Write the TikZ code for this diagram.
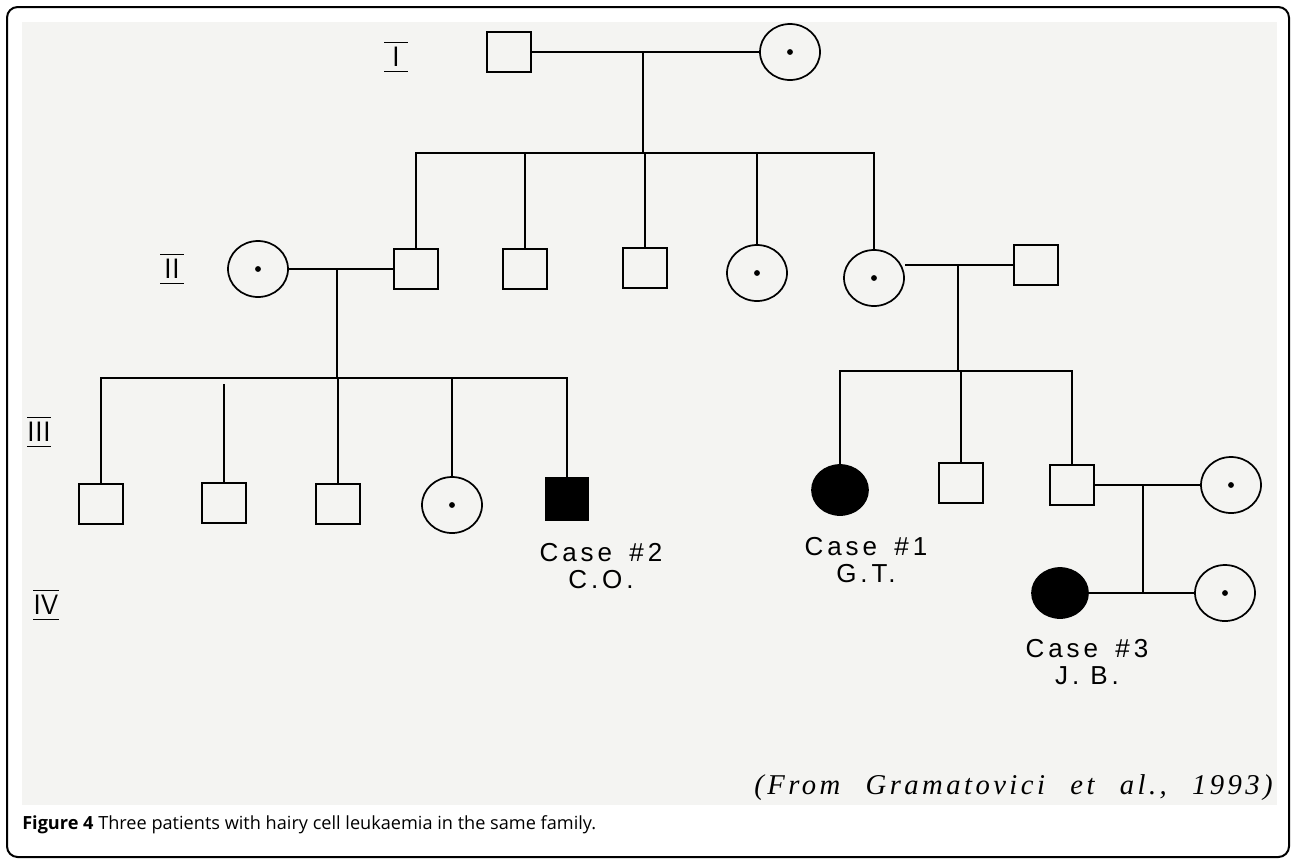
\documentclass[tikz,border=0pt]{standalone}
\usepackage{fontspec}
\usetikzlibrary{shapes.geometric,calc}
\newfontfamily\casefont[LetterSpace=15]{Liberation Sans}
\newfontfamily\fromfont[LetterSpace=12]{Liberation Serif}
\newfontfamily\capfont{Open Sans}
\definecolor{scangray}{RGB}{244,244,242}

\tikzset{
  pline/.style={line width=1.3pt},
  male/.style={draw, rectangle, line width=1.3pt, minimum width=33pt, minimum height=30pt, inner sep=0pt},
  female/.style={draw, ellipse, line width=1.3pt, minimum width=45pt, minimum height=42pt, inner sep=0pt,
    path picture={\fill (path picture bounding box.center) circle (2.2pt);}},
  affmale/.style={male, fill=black, minimum width=31.5pt, minimum height=31pt},
  afffemale/.style={draw, ellipse, fill=black, line width=1.3pt, minimum width=42pt, minimum height=37.5pt, inner sep=0pt},
  genlab/.style={font=\sffamily\fontsize{21}{21}\selectfont, minimum width=17pt, minimum height=21pt, inner sep=0pt},
  caselab/.style={font=\casefont\fontsize{19.5}{20.5}\selectfont, align=center, inner sep=0pt},
}

\begin{document}
\begin{tikzpicture}[x=0.75pt,y=-0.75pt]
    \useasboundingbox (0,0) rectangle (1292,858);
    % frame and scanned area
    \draw[line width=1.5pt, rounded corners=8pt] (7,7) rectangle (1289,857);
    \fill[scangray] (22,22) rectangle (1277,805);

    % generation labels
    \node[genlab] (gi) at (396,57) {I};
    \node[genlab] (gii) at (172,269) {II};
    \node[genlab] (giii) at (39,432) {III};
    \node[genlab] (giv) at (46,605) {IV};
    \foreach \g in {gi,gii,giii,giv}
        \draw[line width=1pt] (\g.north west) -- (\g.north east) (\g.south west) -- (\g.south east);

    % generation I
    \node[male] (i1) at (509,52) {};
    \node[female] (i2) at (790,52) {};
    \draw[pline] (i1) -- (i2);
    \coordinate (m1) at (643,52);
    \coordinate (s1) at (643,153);
    \draw[pline] (m1) -- (s1);

    % generation II
    \node[female] (ii1) at (258,269) {};
    \node[male] (ii2) at (416,269) {};
    \node[male] (ii3) at (525,269) {};
    \node[male] (ii4) at (645,268) {};
    \node[female] (ii5) at (757,273) {};
    \node[female] (ii6) at (874,278) {};
    \node[male] (ii7) at (1036,265) {};
    \draw[pline] (ii2.north) -- (ii2.north |- s1) -- (ii6.north |- s1) -- (ii6.north);
    \foreach \c in {ii3,ii4,ii5}
        \draw[pline] (\c.north) -- (\c.north |- s1);
    \draw[pline] (ii1) -- (ii2);
    \coordinate (m2) at (337,269);
    \coordinate (s2) at (337,378);
    \draw[pline] (m2) -- (s2);

    % generation III, left
    \node[male] (iii1) at (101,504) {};
    \node[male] (iii2) at (224,503) {};
    \node[male] (iii3) at (338,504) {};
    \node[female] (iii4) at (452,505) {};
    \node[affmale] (iii5) at (567,499) {};
    \draw[pline] (iii1.north) -- (iii1.north |- s2) -- (iii5.north |- s2) -- (iii5.north);
    \foreach \c in {iii3,iii4}
        \draw[pline] (\c.north) -- (\c.north |- s2);
    \draw[pline] (iii2.north) -- ($(iii2.north |- s2)+(0,6)$);

    % generation III, right
    \draw[pline] (ii7.west) -- (ii6.east |- ii7.west);
    \coordinate (m3) at (958,265);
    \coordinate (s3) at (958,371);
    \draw[pline] (m3) -- (s3);
    \node[afffemale] (iii6) at (840,490) {};
    \node[male] (iii7) at (961,483) {};
    \node[male] (iii8) at (1072,485) {};
    \node[female] (iii9) at (1231,485) {};
    \draw[pline] (iii6.north) -- (iii6.north |- s3) -- (iii8.north |- s3) -- (iii8.north);
    \draw[pline] (iii7.north) -- (iii7.north |- s3);
    \draw[pline] (iii8) -- (iii9);

    % generation IV
    \node[afffemale] (iv1) at (1060,593) {};
    \node[female] (iv2) at (1225,593) {};
    \draw[pline] (iv1) -- (iv2);
    \coordinate (m4) at (1143,485);
    \draw[pline] (m4) -- (m4 |- iv1);

    % cases
    \node[caselab] (c2) at (601,566) {Case\hspace{13pt}\#2\\C.O.};
    \node[caselab] (c1) at (866,560) {Case\hspace{13pt}\#1\\G.T.};
    \node[caselab] (c3) at (1087,662) {Case\hspace{13pt}\#3\\J. B.};

    % source and caption
    \node[anchor=east, inner sep=0pt, font=\fromfont\itshape\fontsize{21.5}{22}\selectfont] (src) at (1273,788)
        {(From\hspace{19pt}Gramatovici\hspace{19pt}et\hspace{19pt}al.,\hspace{19pt}1993)};
    \node[anchor=west, inner sep=0pt, font=\capfont\fontsize{13.6}{15}\selectfont] (cap) at (22,825)
        {\textbf{Figure 4} Three patients with hairy cell leukaemia in the same family.};
\end{tikzpicture}
\end{document}
